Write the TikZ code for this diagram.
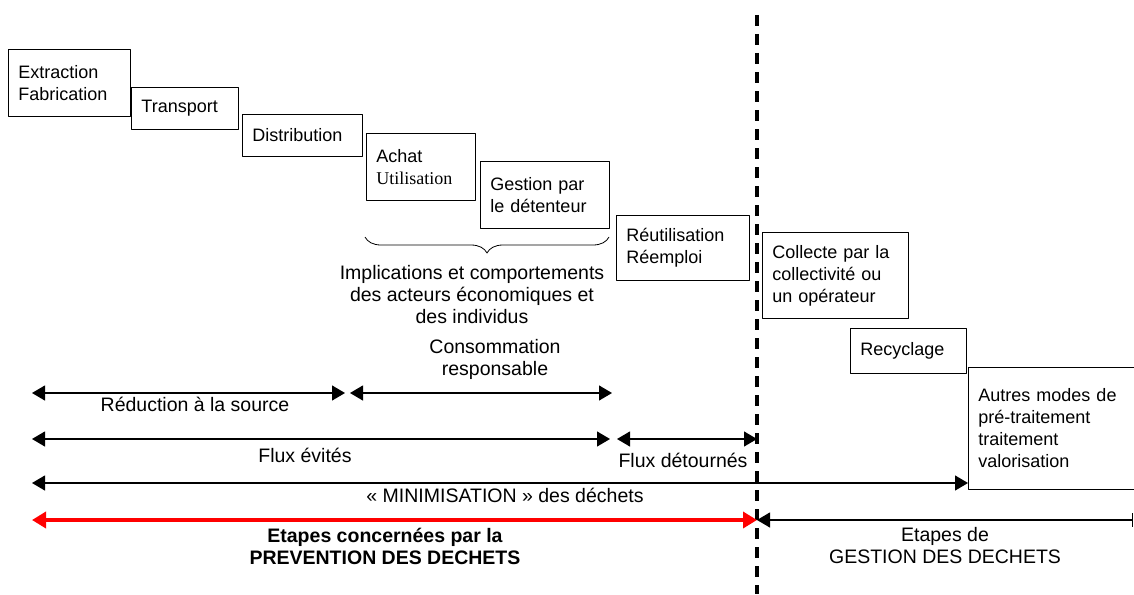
\documentclass[tikz,border=0pt]{standalone}
\usepackage{fontspec}
\setmainfont{Liberation Sans}
\newfontfamily\seriffont{Liberation Serif}
\usetikzlibrary{arrows.meta,decorations.pathreplacing}
\def\fs{\fontsize{18}{22}\selectfont}
\def\fl{\fontsize{19.5}{22}\selectfont}
\tikzset{
  etape/.style={draw, line width=0.9pt, anchor=north west, align=left, inner xsep=10pt, inner ysep=0pt, fill=white},
  dimline/.style={line width=1.2pt, {Triangle[length=13pt,width=15pt]}-{Triangle[length=13pt,width=15pt]}},
  lbl/.style={align=center, inner sep=0pt, font=\fl},
}
\begin{document}
\begin{tikzpicture}[x=1pt, y=-1pt, font=\fs, line join=round]
		\useasboundingbox (0,0) rectangle (1134,594);
		\clip (0,0) rectangle (1134,594);
		% etapes du cycle de vie
		\node[etape, text width=102pt, minimum height=67pt] (extr) at (8,49) {Extraction\\Fabrication};
		\node[etape, text width=87pt, minimum height=42pt] (transp) at (131,87) {Transport};
		\node[etape, text width=100pt, minimum height=42pt] (distr) at (242,114) {Distribution};
		\node[etape, text width=89pt, minimum height=67pt] (achat) at (366,133) {Achat\\{\seriffont Utilisation}};
		\node[etape, text width=109pt, minimum height=67pt] (gestd) at (480,161) {Gestion par\\le détenteur};
		\node[etape, text width=113pt, minimum height=65pt] (reut) at (616,215) {Réutilisation\\Réemploi};
		\node[etape, text width=126pt, minimum height=86pt] (coll) at (762,232) {Collecte par la\\collectivité ou\\un opérateur};
		\node[etape, text width=96pt, minimum height=45pt] (recy) at (850,328) {Recyclage};
		\node[etape, text width=160pt, minimum height=122pt] (autres) at (968,367) {Autres modes de\\pré-traitement\\traitement\\valorisation};
		% accolade
		\coordinate (br-l) at (365,237);
		\coordinate (br-r) at (609,237);
		\draw[decorate, decoration={brace, mirror, amplitude=16pt}, line width=0.8pt] (br-l) -- (br-r);
		\node[lbl] (impl) at (472,295) {Implications et comportements\\des acteurs économiques et\\des individus};
		% separation prevention / gestion
		\coordinate (sep-t) at (757,15);
		\coordinate (sep-b) at (757,594);
		\draw[line width=4.5pt, dash pattern=on 11pt off 8pt] (sep-t) -- (sep-b);
		% fleches
		\foreach \n/\xa/\xb/\y in {rs/32/345/393, cr/350/612/393, fe/32/610/439, fd/617/757/439, mi/32/968/483}{
			\coordinate (\n-l) at (\xa,\y);
			\coordinate (\n-r) at (\xb,\y);
			\draw[dimline] (\n-l) -- (\n-r);
		}
		\coordinate (pv-l) at (32,520);
		\coordinate (pv-r) at (757,520);
		\coordinate (ge-l) at (757,520);
		\coordinate (ge-r) at (1133,520);
		\draw[red, line width=4pt, {Triangle[length=14pt,width=16pt]}-{Triangle[length=14pt,width=16pt]}] (pv-l) -- (pv-r);
		\draw[line width=1.2pt, {Triangle[length=13pt,width=15pt]}-{Bar[width=14pt]}] (ge-l) -- (ge-r);
		% textes
		\node[lbl] (cons) at (495,359) {Consommation\\responsable};
		\node[lbl] (reduc) at (195,404) {Réduction à la source};
		\node[lbl] (fevit) at (305,455) {Flux évités};
		\node[lbl] (fdet) at (683,460) {Flux détournés};
		\node[lbl] (minim) at (505,495) {« MINIMISATION » des déchets};
		\node[lbl, font=\fl\bfseries] (prev) at (385,546) {Etapes concernées par la\\PREVENTION DES DECHETS};
		\node[lbl] (gestion) at (945,546) {Etapes de\\GESTION DES DECHETS};
\end{tikzpicture}
\end{document}
